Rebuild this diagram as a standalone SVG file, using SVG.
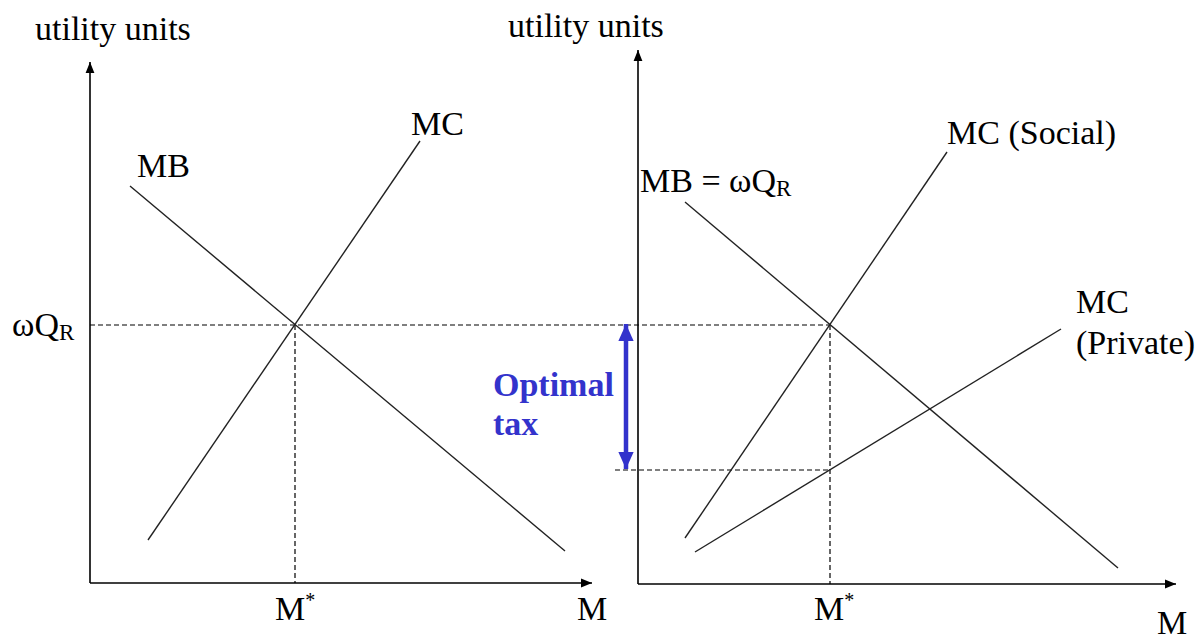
<svg xmlns="http://www.w3.org/2000/svg" width="1197" height="637" viewBox="0 0 1197 637">
<style>
text{font-family:"Liberation Serif","Times New Roman",serif;font-size:34px;fill:#000}
.sub{font-size:23px}
.sup{font-size:20px}
.ax{stroke:#000;stroke-width:1.6;fill:none}
.cv{stroke:#222;stroke-width:1.4;fill:none}
.dash{stroke:#000;stroke-width:1.2;stroke-dasharray:5 3;fill:none}
.tax{font-weight:bold;fill:#3333cc}
</style>
<defs>
<marker id="ah" viewBox="0 0 10 10" refX="10" refY="5" markerWidth="11" markerHeight="11" markerUnits="userSpaceOnUse" orient="auto">
<path d="M0,1 L10,5 L0,9 Z" fill="#000"/>
</marker>
<marker id="bh" viewBox="0 0 10 10" refX="10" refY="5" markerWidth="17" markerHeight="17" markerUnits="userSpaceOnUse" orient="auto-start-reverse">
<path d="M0,0.5 L10,5 L0,9.5 Z" fill="#3333cc"/>
</marker>
</defs>
<g id="axes">
<line class="ax" x1="90" y1="583" x2="90" y2="62" marker-end="url(#ah)"/>
<line class="ax" x1="90" y1="583" x2="592" y2="583" marker-end="url(#ah)"/>
<line class="ax" x1="638" y1="584" x2="638" y2="50" marker-end="url(#ah)"/>
<line class="ax" x1="638" y1="584" x2="1176" y2="584" marker-end="url(#ah)"/>
</g>
<g id="connectors">
<line class="dash" x1="90" y1="325" x2="830" y2="325"/>
<line class="dash" x1="295" y1="325" x2="295" y2="583"/>
<line class="dash" x1="615" y1="470" x2="830" y2="470"/>
<line class="dash" x1="830" y1="325" x2="830" y2="584"/>
<line class="cv" x1="130" y1="186" x2="565" y2="551"/>
<line class="cv" x1="148" y1="540" x2="420" y2="141"/>
<line class="cv" x1="685" y1="202" x2="1118" y2="568"/>
<line class="cv" x1="685" y1="538" x2="947" y2="152"/>
<line class="cv" x1="695" y1="552" x2="1061" y2="329"/>
<line x1="626" y1="324" x2="626" y2="469" stroke="#3333cc" stroke-width="4.5" marker-start="url(#bh)" marker-end="url(#bh)"/>
</g>
<g id="left-labels">
<text x="35" y="40">utility units</text>
<text x="411" y="135">MC</text>
<text x="137" y="177">MB</text>
<text x="12" y="336">ωQ<tspan class="sub" dy="4">R</tspan></text>
<text x="275" y="620">M<tspan class="sup" dy="-13">*</tspan></text>
<text x="577" y="620">M</text>
</g>
<g id="right-labels">
<text x="508" y="37">utility units</text>
<text x="640" y="192">MB = ωQ<tspan class="sub" dy="4">R</tspan></text>
<text x="947" y="144">MC (Social)</text>
<text x="1076" y="313">MC</text>
<text x="1076" y="354">(Private)</text>
<text x="814" y="620">M<tspan class="sup" dy="-13">*</tspan></text>
<text x="1157" y="634">M</text>
<text class="tax" x="493" y="396">Optimal</text>
<text class="tax" x="493" y="435">tax</text>
</g>
</svg>
